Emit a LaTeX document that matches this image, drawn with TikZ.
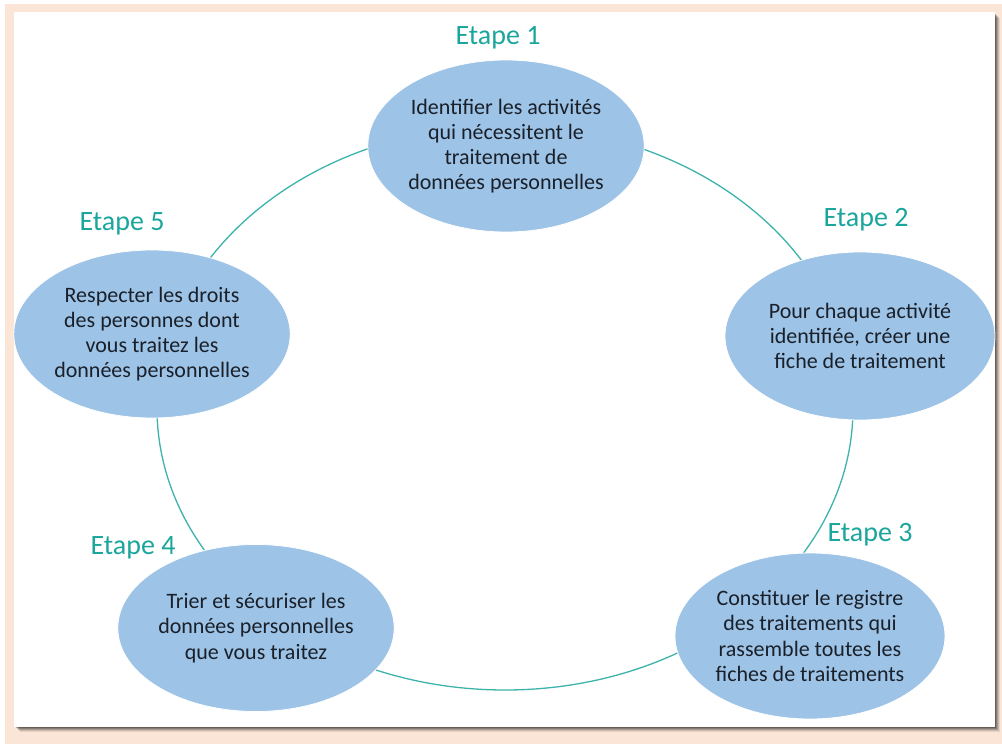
\documentclass[tikz,border=0pt]{standalone}
\usepackage{fontspec}
\setmainfont{Carlito}
\usetikzlibrary{shapes.geometric}
\definecolor{frame}{HTML}{FBE5D6}
\definecolor{stepfill}{HTML}{9DC3E6}
\definecolor{ring}{HTML}{3DB3AB}
\definecolor{labelteal}{HTML}{1AA69C}
\definecolor{bodytext}{HTML}{1A202A}
\tikzset{
  stepoval/.style={ellipse, fill=stepfill, draw=white, line width=0.8pt,
    inner sep=0pt, align=center, text=bodytext,
    font=\fontsize{22}{25.2}\selectfont},
  steplabel/.style={text=labelteal, font=\fontsize{28}{30}\selectfont, inner sep=0pt},
}
\begin{document}
\begin{tikzpicture}[x=1pt,y=-1pt]
  \useasboundingbox (0,0) rectangle (1002,744);
  % page background and frame
  \fill[white] (0,0) rectangle (1002,744);
  \fill[frame] (5,4) rectangle (1002,744);
  % soft shadow of the panel
  \foreach \o/\a in {6/0.08,5/0.12,4/0.16,3/0.2,2/0.25}
    \fill[black,opacity=\a] (14+\o,12+\o) rectangle (995+\o-1,727+\o-1);
  \fill[white] (14,12) rectangle (995,727);

  % ring linking the steps
  \coordinate (c) at (505,408);
  \draw[ring, line width=1.3pt] (c) ellipse [x radius=348pt, y radius=282pt];

  % steps
  \node[stepoval, minimum width=273pt, minimum height=172pt] (s1) at (506,146)
    {Identifier les activités\\qui nécessitent le\\traitement de\\données personnelles};
  \node[stepoval, minimum width=270pt, minimum height=168pt] (s2) at (860,336)
    {Pour chaque activité\\identifiée, créer une\\fiche de traitement};
  \node[stepoval, minimum width=270pt, minimum height=166pt] (s3) at (810,636)
    {Constituer le registre\\des traitements qui\\rassemble toutes les\\fiches de traitements};
  \node[stepoval, minimum width=272pt, minimum height=167pt] (s4) at (256,628)
    {Trier et sécuriser les\\données personnelles\\que vous traitez};
  \node[stepoval, minimum width=276pt, minimum height=168pt] (s5) at (152,334)
    {Respecter les droits\\des personnes dont\\vous traitez les\\données personnelles};

  % step labels
  \node[steplabel] (l1) at (498,38) {Etape 1};
  \node[steplabel] (l2) at (866,220) {Etape 2};
  \node[steplabel] (l3) at (870,535) {Etape 3};
  \node[steplabel] (l4) at (133,548) {Etape 4};
  \node[steplabel] (l5) at (122,224) {Etape 5};
\end{tikzpicture}
\end{document}
